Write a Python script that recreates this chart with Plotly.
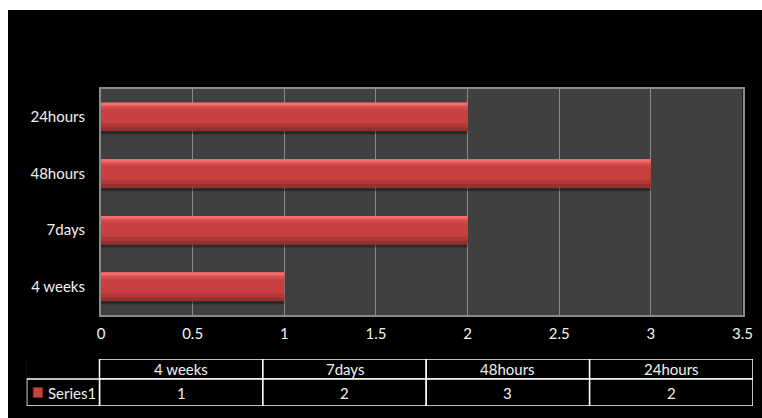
import plotly.graph_objects as go

# ---- data ----
categories = ["4 weeks", "7days", "48hours", "24hours"]
values = [1, 2, 3, 2]
series_name = "Series1"
x_range = [0, 3.5]
x_dtick = 0.5

W, H = 762, 418
FONT = "Lato, 'Open Sans', sans-serif"
FS = 15
TXT = "#f2f2f2"

def fx(px):
    return px / W

def fy(py):
    return 1 - py / H

fig = go.Figure()

# shadow under bars
fig.add_trace(go.Bar(
    x=values, y=categories, orientation="h",
    offset=-0.31, width=0.5,
    marker=dict(color="rgba(0,0,0,0.35)", line=dict(width=0)),
    hoverinfo="skip", showlegend=False,
))

# base bar + overlaid shading strips (overlapping, so no seams)
layers = [
    (-0.25, 0.50, "#c73f3f"),
    (-0.25, 0.13, "#b03737"),
    (-0.25, 0.06, "#982e2e"),
    (0.13, 0.12, "#d44949"),
    (0.18, 0.07, "#e45c5c"),
    (0.21, 0.04, "#f07272"),
]
for i, (off, wd, col) in enumerate(layers):
    fig.add_trace(go.Bar(
        x=values, y=categories, orientation="h",
        offset=off, width=wd,
        marker=dict(color=col, line=dict(width=0)),
        name=series_name, showlegend=False,
        hoverinfo="x+y" if i == 0 else "skip",
    ))

# ---- data table drawn on a hidden helper axis pair (x2/y2) ----
n = len(categories)
TBL_L, TBL_R = 26.7, 753.0
COL0_R = 99.5
col_px = (TBL_R - COL0_R) / n
LBL = -(COL0_R - TBL_L) / col_px
ROW_D, ROW_H = 27, 20

shapes = []
annotations = []
line = dict(color="white", width=1.5)
# black cover for the empty corner above the label cell
shapes.append(dict(type="rect", xref="x2", yref="y2", x0=LBL - 0.05, x1=0,
                   y0=ROW_D, y1=ROW_D + ROW_H + 1, fillcolor="black",
                   line=dict(width=0), layer="above"))
for i, (cat, v) in enumerate(zip(categories, values)):
    shapes.append(dict(type="rect", xref="x2", yref="y2", x0=i, x1=i + 1,
                       y0=ROW_D, y1=ROW_D + ROW_H, line=line, fillcolor="black",
                       layer="above"))
    shapes.append(dict(type="rect", xref="x2", yref="y2", x0=i, x1=i + 1,
                       y0=0, y1=ROW_D, line=line, fillcolor="black", layer="above"))
    annotations.append(dict(xref="x2", yref="y2", x=i + 0.5, y=ROW_D + ROW_H / 2,
                            text=cat, showarrow=False,
                            font=dict(family=FONT, size=FS, color=TXT)))
    annotations.append(dict(xref="x2", yref="y2", x=i + 0.5, y=ROW_D / 2,
                            text=str(v), showarrow=False,
                            font=dict(family=FONT, size=FS, color=TXT)))
shapes.append(dict(type="rect", xref="x2", yref="y2", x0=LBL, x1=0,
                   y0=0, y1=ROW_D, line=line, fillcolor="black", layer="above"))
# legend key square
key_w = 9.5 / col_px
key_x0 = LBL + 6.5 / col_px
shapes.append(dict(type="rect", xref="x2", yref="y2", x0=key_x0, x1=key_x0 + key_w,
                   y0=ROW_D / 2 - 5, y1=ROW_D / 2 + 5,
                   fillcolor="#c94242", line=dict(color="#7d2424", width=1),
                   layer="above"))
annotations.append(dict(xref="x2", yref="y2", x=key_x0 + key_w + 3.5 / col_px,
                        y=ROW_D / 2, xanchor="left", text=series_name,
                        showarrow=False,
                        font=dict(family=FONT, size=FS, color=TXT)))

# white frame strips at top/left of the slide
shapes += [
    dict(type="rect", xref="paper", yref="paper", x0=0, x1=1,
         y0=fy(10), y1=1, fillcolor="white", line=dict(width=0), layer="above"),
    dict(type="rect", xref="paper", yref="paper", x0=0, x1=fx(8),
         y0=0, y1=1, fillcolor="white", line=dict(width=0), layer="above"),
]

fig.update_layout(
    width=W, height=H, autosize=False,
    margin=dict(l=0, r=0, t=0, b=0, pad=0),
    paper_bgcolor="black",
    plot_bgcolor="#404040",
    barmode="overlay",
    font=dict(family=FONT, size=FS, color=TXT),
    showlegend=False,
    xaxis=dict(
        domain=[fx(101), fx(742.5)],
        range=x_range, dtick=x_dtick, tick0=0,
        showgrid=True, gridcolor="#8a8a8a", gridwidth=1,
        showline=True, linecolor="#8a8a8a", linewidth=2, mirror=True,
        zeroline=False, ticks="", ticklabelstandoff=4, automargin=False,
        tickfont=dict(family=FONT, size=FS, color=TXT),
        fixedrange=True,
    ),
    yaxis=dict(
        domain=[fy(315), fy(88.5)],
        type="category", categoryorder="array", categoryarray=categories,
        showgrid=False,
        showline=True, linecolor="#8a8a8a", linewidth=2, mirror=True,
        zeroline=False, ticks="", ticklabelstandoff=11, automargin=False,
        tickfont=dict(family=FONT, size=FS, color=TXT),
        fixedrange=True,
    ),
    xaxis2=dict(
        domain=[fx(TBL_L), fx(TBL_R)], range=[LBL, n], anchor="y2",
        visible=False, fixedrange=True, automargin=False,
    ),
    yaxis2=dict(
        domain=[fy(406), fy(359)], range=[0, ROW_D + ROW_H], anchor="x2",
        visible=False, fixedrange=True, automargin=False,
    ),
    shapes=shapes,
    annotations=annotations,
)

fig.write_html("out.html", config={"responsive": False, "displayModeBar": False})
